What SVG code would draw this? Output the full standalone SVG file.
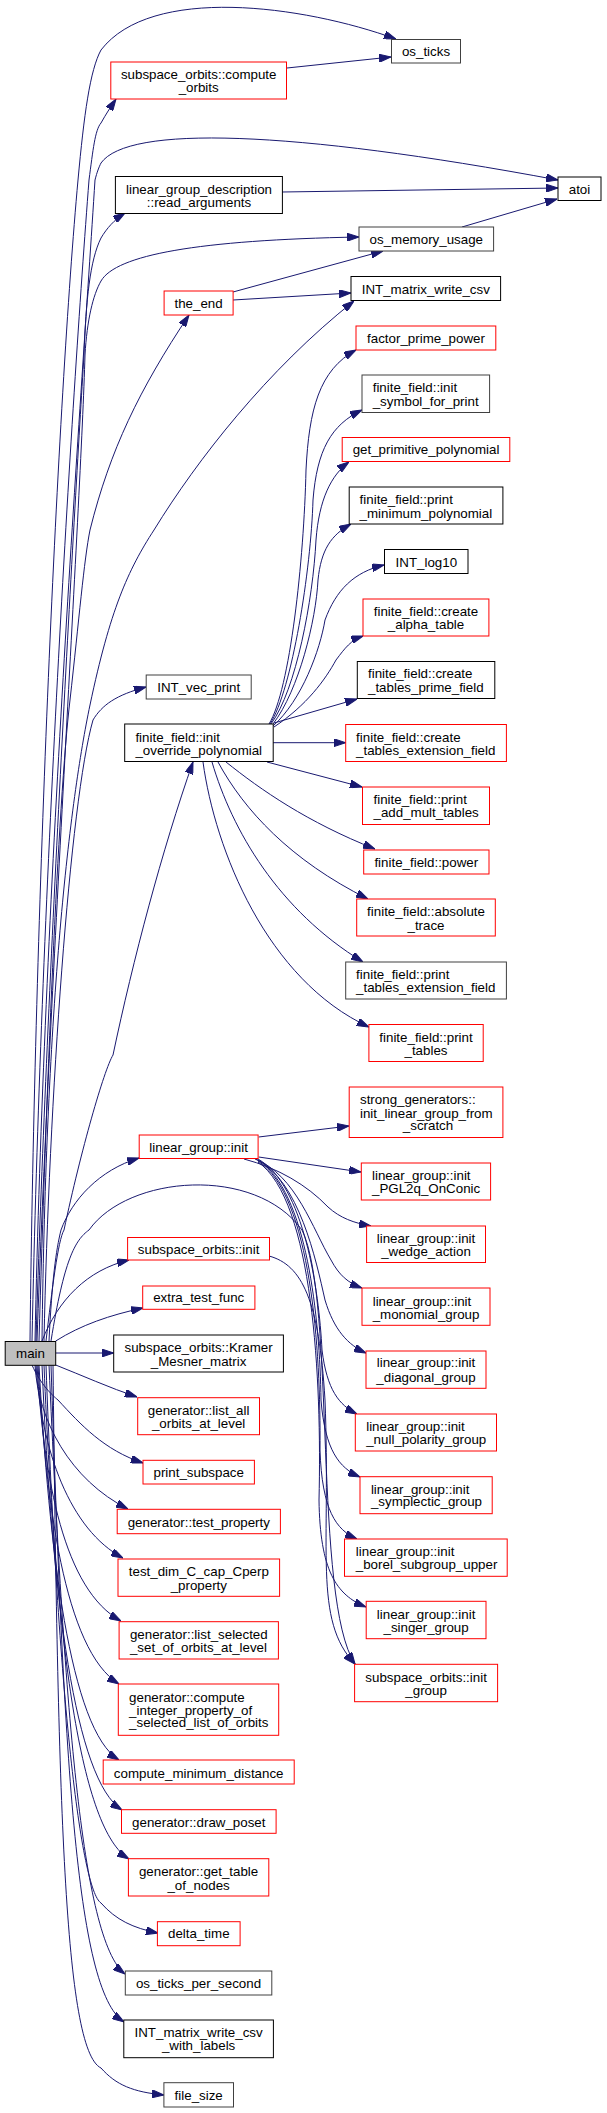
<svg xmlns="http://www.w3.org/2000/svg" width="607" height="2113" viewBox="0 0 607 2113">
<style>
.n rect{fill:#fff;stroke:#000;stroke-width:1}
.n.r rect{stroke:#ff0000}
.n.g rect{stroke:#404040}
.n.m rect{fill:#bfbfbf}
text{font-family:"Liberation Sans",Arial,sans-serif;font-size:13.33px;fill:#000}
.c{text-anchor:middle}
#edges path{fill:none;stroke:#191970;stroke-width:1;marker-end:url(#a)}
</style>
<defs>
<marker id="a" viewBox="0 0 12 8" markerWidth="12" markerHeight="8" refX="12" refY="4" orient="auto" markerUnits="userSpaceOnUse"><path d="M0,0 L12,4 L0,8 z" fill="#191970" stroke="#191970"/></marker>
</defs>
<rect width="607" height="2113" fill="#fff"/>
<g id="edges">
<path d="M30,1341 C35,900 58,400 78,180 C84,115 90,70 101,50 C151,-15 302,5 396,39"/>
<path d="M32,1341 C41,900 72,400 89,180 C93,150 95,130 101,123 C106,114 110,108 116,99"/>
<path d="M35,1341 C44,900 81,400 95,180 C97,172 99,167 101,163 C128,125 290,130 558,180"/>
<path d="M36,1341 C46,1000 75,500 84,355 C86,300 90,260 101,238 C107,228 114,220 125,213"/>
<path d="M37,1341 C49,1000 81,500 85,355 C87,320 93,295 101,281 C116,255 197,240 359,237"/>
<path d="M39,1341 C46,1100 58,800 70,700 C79,620 84,560 90,530 C110,450 139,390 189,315"/>
<path d="M42,1341 C46,1000 70,800 90,705 C110,610 128,570 154,530 C197,460 267,370 354,301"/>
<path d="M44,1341 C49,1100 70,800 93,720 C102,705 116,695 146,687"/>
<path d="M46,1341 C52,1290 58,1240 64,1230 C81,1150 104,1070 113,1055 C133,960 162,850 193,762"/>
<path d="M49,1341 C52,1280 56,1250 61,1230 C72,1200 99,1170 139,1158"/>
<path d="M51,1341 C64,1260 75,1240 89,1230 C128,1175 255,1165 302,1230 C336,1300 313,1600 355,1664"/>
<path d="M42,1341 C58,1300 87,1270 129,1260"/>
<path d="M55.7,1341 C81,1325 110,1315 143,1308"/>
<path d="M55.7,1353 L113.7,1353"/>
<path d="M55.7,1365 C81,1375 110,1388 137,1397"/>
<path d="M32,1365 C41,1385 52,1395 58,1400 C81,1425 104,1450 143,1463"/>
<path d="M35,1365 C38,1420 70,1480 128,1509"/>
<path d="M36,1365 C41,1450 70,1530 123,1558"/>
<path d="M37,1365 C44,1480 64,1590 121,1621"/>
<path d="M38,1365 C46,1500 64,1650 119,1684"/>
<path d="M39,1365 C49,1550 70,1730 119,1760"/>
<path d="M42,1365 C52,1600 75,1780 122,1810"/>
<path d="M44,1365 C56,1650 81,1830 129,1859"/>
<path d="M46,1365 C58,1700 81,1890 101,1903 C116,1920 133,1928 158,1933"/>
<path d="M49,1365 C64,1700 81,1940 125,1974"/>
<path d="M51,1365 C64,1750 75,1990 124,2022"/>
<path d="M53,1365 C58,1800 64,2050 101,2068 C116,2085 133,2092 164,2095"/>
<path d="M287,68 L391,57"/>
<path d="M282,192 L558,188"/>
<path d="M462,227 L557,199"/>
<path d="M233,292 L383,251"/>
<path d="M233,300 L351,293"/>
<path d="M269,724 C290,690 304,560 306,470 C309,410 319,370 356,350"/>
<path d="M270,724 C292,690 311,570 313,500 C317,450 331,425 362,410"/>
<path d="M271,724 C296,690 313,600 316,540 C319,500 331,475 349,462"/>
<path d="M273,724 C299,690 316,620 318,580 C321,550 331,535 351,524"/>
<path d="M273,726 C302,700 320,650 325,620 C336,590 354,572 384,565"/>
<path d="M274,727 C307,705 325,680 336,660 C345,648 351,640 363,636"/>
<path d="M274,723 L357,699"/>
<path d="M273,742.7 L345.7,742.7"/>
<path d="M267,762 L362,787"/>
<path d="M226,762 C261,790 307,822 375,849"/>
<path d="M218,762 C244,810 290,860 368,899"/>
<path d="M212,762 C232,830 278,910 363,962"/>
<path d="M203,762 C215,850 267,980 369,1027"/>
<path d="M258.7,1137 L349,1126"/>
<path d="M258.7,1157 L361,1172"/>
<path d="M244,1159 C278,1168 307,1185 328,1207 C340,1218 354,1223 371,1226"/>
<path d="M255,1159 C296,1175 313,1230 331,1260 C339,1275 348,1283 362,1288"/>
<path d="M256,1159 C299,1180 316,1260 325,1300 C334,1330 348,1345 366,1353"/>
<path d="M258,1159 C304,1185 319,1290 322,1350 C327,1390 339,1405 357,1414"/>
<path d="M258,1160 C307,1190 320,1320 321,1400 C325,1450 339,1468 360,1477"/>
<path d="M258,1161 C311,1195 321,1350 320,1450 C322,1510 336,1530 357,1539"/>
<path d="M258,1162 C313,1200 322,1380 319,1500 C320,1570 336,1595 366,1607"/>
<path d="M269,1256 C302,1265 319,1300 325,1400 C331,1550 313,1620 355,1664"/>
</g>
<g id="n_os_ticks" class="n g"><rect x="391.5" y="39.5" width="69" height="23.5"/><text class="c" x="426" y="55.8">os_ticks</text></g>
<g id="n_compute_orbits" class="n r"><rect x="110.8" y="62" width="175.7" height="37"/><text class="c" x="198.7" y="78.8">subspace_orbits::compute</text><text class="c" x="198.7" y="92.1">_orbits</text></g>
<g id="n_atoi" class="n"><rect x="558" y="177" width="43" height="23.5"/><text class="c" x="579.5" y="193.8">atoi</text></g>
<g id="n_read_arguments" class="n"><rect x="115.4" y="176.5" width="167" height="37"/><text class="c" x="199" y="193.8">linear_group_description</text><text class="c" x="199" y="206.5">::read_arguments</text></g>
<g id="n_os_memory_usage" class="n g"><rect x="359" y="227" width="134.6" height="24"/><text class="c" x="426.3" y="243.8">os_memory_usage</text></g>
<g id="n_INT_matrix_write_csv" class="n"><rect x="351" y="276.5" width="149.6" height="24"/><text class="c" x="425.8" y="293.8">INT_matrix_write_csv</text></g>
<g id="n_the_end" class="n r"><rect x="164.1" y="291" width="69" height="24"/><text class="c" x="198.6" y="307.8">the_end</text></g>
<g id="n_factor_prime_power" class="n r"><rect x="356" y="326" width="139.8" height="24"/><text class="c" x="426" y="342.8">factor_prime_power</text></g>
<g id="n_init_symbol_for_print" class="n g"><rect x="362" y="375" width="127.6" height="37.5"/><text x="372.7" y="391.5">finite_field::init</text><text x="372.7" y="405.5">_symbol_for_print</text></g>
<g id="n_get_primitive_polynomial" class="n r"><rect x="342.2" y="437.5" width="167.6" height="24"/><text class="c" x="426" y="454.1">get_primitive_polynomial</text></g>
<g id="n_print_minimum_polynomial" class="n"><rect x="349.2" y="487" width="153.7" height="37"/><text x="359.6" y="503.5">finite_field::print</text><text x="359.6" y="517.5">_minimum_polynomial</text></g>
<g id="n_INT_log10" class="n"><rect x="384.5" y="549.5" width="83.5" height="24"/><text class="c" x="426.3" y="566.5">INT_log10</text></g>
<g id="n_create_alpha_table" class="n r"><rect x="363" y="599" width="125.9" height="37"/><text class="c" x="426" y="615.8">finite_field::create</text><text class="c" x="426" y="629.1">_alpha_table</text></g>
<g id="n_create_tables_prime_field" class="n"><rect x="357.3" y="661.5" width="137.5" height="37"/><text x="368" y="677.8">finite_field::create</text><text x="368" y="691.5">_tables_prime_field</text></g>
<g id="n_INT_vec_print" class="n g"><rect x="146.2" y="675" width="105" height="24"/><text class="c" x="198.7" y="691.8">INT_vec_print</text></g>
<g id="n_init_override_polynomial" class="n"><rect x="124.7" y="724" width="148.5" height="37.5"/><text x="135.4" y="741.5">finite_field::init</text><text x="135.4" y="754.8">_override_polynomial</text></g>
<g id="n_create_tables_extension_field" class="n r"><rect x="345.7" y="724.5" width="160.7" height="37"/><text x="356.1" y="741.5">finite_field::create</text><text x="356.1" y="754.8">_tables_extension_field</text></g>
<g id="n_print_add_mult_tables" class="n r"><rect x="362.5" y="787" width="127" height="37.5"/><text x="373.5" y="803.8">finite_field::print</text><text x="373.5" y="817.1">_add_mult_tables</text></g>
<g id="n_power" class="n r"><rect x="363.7" y="850" width="125.3" height="24"/><text class="c" x="426.3" y="866.8">finite_field::power</text></g>
<g id="n_absolute_trace" class="n r"><rect x="356.7" y="899" width="138.6" height="37"/><text class="c" x="426" y="915.5">finite_field::absolute</text><text class="c" x="426" y="929.8">_trace</text></g>
<g id="n_print_tables_extension_field" class="n g"><rect x="345.7" y="962" width="160.7" height="37"/><text x="356.1" y="978.8">finite_field::print</text><text x="356.1" y="991.5">_tables_extension_field</text></g>
<g id="n_print_tables" class="n r"><rect x="368.9" y="1024.5" width="114.3" height="37"/><text class="c" x="426" y="1041.8">finite_field::print</text><text class="c" x="426" y="1054.8">_tables</text></g>
<g id="n_strong_generators" class="n r"><rect x="349.2" y="1087" width="153.7" height="50.5"/><text x="360" y="1104.1">strong_generators::</text><text x="360" y="1117.5">init_linear_group_from</text><text class="c" x="428" y="1130.1">_scratch</text></g>
<g id="n_linear_group_init" class="n r"><rect x="139.2" y="1135" width="118.9" height="23.5"/><text class="c" x="198.6" y="1151.5">linear_group::init</text></g>
<g id="n_PGL2q_OnConic" class="n r"><rect x="361.3" y="1163" width="129.3" height="37"/><text x="372" y="1179.8">linear_group::init</text><text x="372" y="1192.8">_PGL2q_OnConic</text></g>
<g id="n_wedge_action" class="n r"><rect x="366.6" y="1226" width="118.9" height="36.5"/><text class="c" x="426" y="1243.1">linear_group::init</text><text class="c" x="426" y="1255.5">_wedge_action</text></g>
<g id="n_subspace_orbits_init" class="n r"><rect x="127.6" y="1237.5" width="141.9" height="22.5"/><text class="c" x="198.6" y="1253.8">subspace_orbits::init</text></g>
<g id="n_monomial_group" class="n r"><rect x="362" y="1288" width="128" height="37.3"/><text x="372.7" y="1305.5">linear_group::init</text><text x="372.7" y="1318.8">_monomial_group</text></g>
<g id="n_extra_test_func" class="n r"><rect x="142.7" y="1286" width="112.2" height="23.3"/><text class="c" x="198.7" y="1302.1">extra_test_func</text></g>
<g id="n_main" class="n m"><rect x="5.2" y="1341.5" width="50.5" height="23.8"/><text class="c" x="30.5" y="1358.1">main</text></g>
<g id="n_Kramer_Mesner_matrix" class="n"><rect x="113.7" y="1335" width="169.7" height="37"/><text class="c" x="198.6" y="1351.8">subspace_orbits::Kramer</text><text class="c" x="198.6" y="1365.5">_Mesner_matrix</text></g>
<g id="n_diagonal_group" class="n r"><rect x="366" y="1351" width="120" height="37.3"/><text class="c" x="426" y="1367.1">linear_group::init</text><text class="c" x="426" y="1381.5">_diagonal_group</text></g>
<g id="n_list_all_orbits_at_level" class="n r"><rect x="137.7" y="1397.7" width="121.8" height="37"/><text class="c" x="198.6" y="1414.8">generator::list_all</text><text class="c" x="198.6" y="1427.5">_orbits_at_level</text></g>
<g id="n_null_polarity_group" class="n r"><rect x="355.3" y="1414" width="141.2" height="37"/><text x="366.2" y="1430.8">linear_group::init</text><text x="366.2" y="1443.8">_null_polarity_group</text></g>
<g id="n_print_subspace" class="n r"><rect x="143" y="1460.3" width="111.4" height="23.7"/><text class="c" x="198.7" y="1477.1">print_subspace</text></g>
<g id="n_symplectic_group" class="n r"><rect x="360" y="1476.7" width="132.2" height="37"/><text x="370.9" y="1493.5">linear_group::init</text><text x="370.9" y="1506.1">_symplectic_group</text></g>
<g id="n_test_property" class="n r"><rect x="117.2" y="1509.3" width="163.2" height="24.4"/><text class="c" x="198.8" y="1526.8">generator::test_property</text></g>
<g id="n_borel_subgroup_upper" class="n r"><rect x="344.5" y="1539" width="162.7" height="37.3"/><text x="355.8" y="1555.8">linear_group::init</text><text x="355.8" y="1569.1">_borel_subgroup_upper</text></g>
<g id="n_test_dim_C_cap_Cperp_property" class="n r"><rect x="118" y="1559" width="161.6" height="37.3"/><text class="c" x="198.8" y="1575.8">test_dim_C_cap_Cperp</text><text class="c" x="198.8" y="1589.8">_property</text></g>
<g id="n_singer_group" class="n r"><rect x="366.2" y="1601.3" width="119.8" height="37.4"/><text class="c" x="426.1" y="1618.8">linear_group::init</text><text class="c" x="426.1" y="1631.8">_singer_group</text></g>
<g id="n_list_selected" class="n r"><rect x="119.1" y="1621.7" width="159.3" height="37.3"/><text x="129.9" y="1638.8">generator::list_selected</text><text x="129.9" y="1651.8">_set_of_orbits_at_level</text></g>
<g id="n_init_group" class="n r"><rect x="354.6" y="1664.3" width="143" height="37.4"/><text class="c" x="426.1" y="1681.5">subspace_orbits::init</text><text class="c" x="426.1" y="1694.8">_group</text></g>
<g id="n_compute_integer_property" class="n r"><rect x="118.3" y="1684" width="160.4" height="51.3"/><text x="129.1" y="1701.8">generator::compute</text><text x="129.1" y="1714.5">_integer_property_of</text><text x="129.1" y="1727.1">_selected_list_of_orbits</text></g>
<g id="n_compute_minimum_distance" class="n r"><rect x="103.2" y="1760" width="191" height="24"/><text class="c" x="198.7" y="1777.5">compute_minimum_distance</text></g>
<g id="n_draw_poset" class="n r"><rect x="121.5" y="1809.7" width="154.6" height="23.6"/><text class="c" x="198.8" y="1826.5">generator::draw_poset</text></g>
<g id="n_get_table_of_nodes" class="n r"><rect x="128.4" y="1858.7" width="140.4" height="37.3"/><text class="c" x="198.6" y="1875.5">generator::get_table</text><text class="c" x="198.6" y="1889.5">_of_nodes</text></g>
<g id="n_delta_time" class="n r"><rect x="157.4" y="1921.7" width="82.7" height="24"/><text class="c" x="198.8" y="1938.1">delta_time</text></g>
<g id="n_os_ticks_per_second" class="n g"><rect x="125.3" y="1971" width="146.5" height="24"/><text class="c" x="198.5" y="1987.8">os_ticks_per_second</text></g>
<g id="n_INT_matrix_write_csv_with_labels" class="n"><rect x="123.8" y="2020" width="149.6" height="37.7"/><text class="c" x="198.6" y="2037.1">INT_matrix_write_csv</text><text class="c" x="198.6" y="2050.1">_with_labels</text></g>
<g id="n_file_size" class="n g"><rect x="163.9" y="2082.7" width="69.6" height="24.3"/><text class="c" x="198.7" y="2099.8">file_size</text></g>
</svg>
